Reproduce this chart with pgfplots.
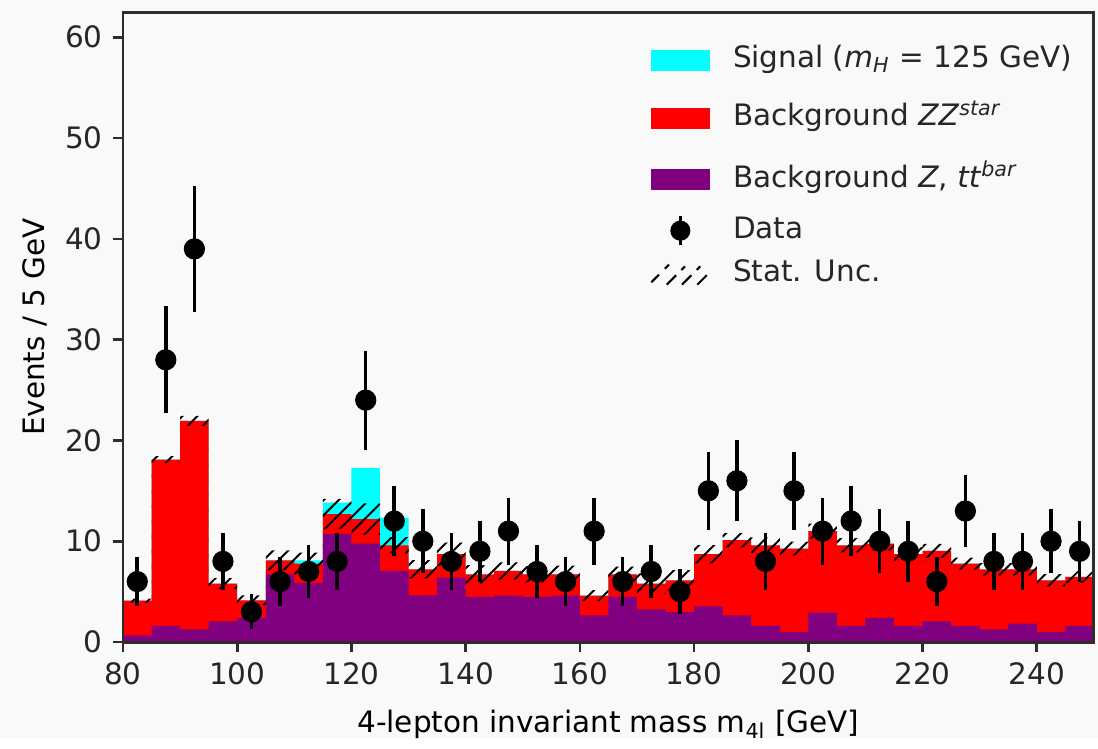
\documentclass[border=0pt]{standalone}
\usepackage{fontspec}
\setmainfont{DejaVu Sans}
\usepackage{pgfplots}
\pgfplotsset{compat=1.18}
\usepackage{pgfplotstable}
\usepgfplotslibrary{fillbetween}
\usetikzlibrary{patterns.meta}
\definecolor{bgc}{RGB}{249,249,249}
\definecolor{sigc}{RGB}{0,255,255}
\definecolor{zzc}{RGB}{255,0,0}
\definecolor{ztc}{RGB}{128,0,128}
\definecolor{spine}{RGB}{45,45,45}

% x = lower bin edge; zt = Z,ttbar ; zz = ZZ* ; sig = signal ; unc = stat. unc.
\pgfplotstableread{
x   zt    zz    sig   unc
80  0.66  3.44  0     0.2
85  1.60  16.50 0     0.35
90  1.26  20.69 0     0.5
95  2.05  3.75  0     0.55
100 2.40  1.74  0     0.5
105 6.72  1.38  0     1.0
110 5.86  1.92  0.32  1.1
115 10.73 1.97  1.14  1.5
120 9.77  2.43  5.08  1.55
125 7.05  2.55  2.75  0.8
130 4.64  2.58  0     0.9
135 6.39  2.32  0     1.15
140 4.47  2.25  0     0.9
145 4.60  2.45  0     0.85
150 4.47  2.25  0     0.8
155 4.60  2.12  0     0.85
160 2.65  1.95  0     0.55
165 4.47  2.25  0     0.75
170 3.25  2.55  0     1.0
175 2.98  3.15  0     1.0
180 3.55  5.16  0     0.9
185 2.65  7.45  0     0.7
190 1.60  8.00  0     0.75
195 1.00  8.27  0     0.7
200 2.92  8.08  0     0.75
205 1.60  8.00  0     0.7
210 2.40  7.37  0     0.7
215 1.60  7.11  0     0.7
220 2.05  6.99  0     0.7
225 1.60  6.18  0     0.6
230 1.26  5.96  0     0.6
235 1.83  5.39  0     0.6
240 1.00  5.13  0     0.6
245 1.60  4.86  0     0.6
250 1.60  4.86  0     0.6
}\mc

\pgfplotstableread{
x     y   e
82.5  6   2.45
87.5  28  5.29
92.5  39  6.24
97.5  8   2.83
102.5 3   1.73
107.5 6   2.45
112.5 7   2.65
117.5 8   2.83
122.5 24  4.90
127.5 12  3.46
132.5 10  3.16
137.5 8   2.83
142.5 9   3.00
147.5 11  3.32
152.5 7   2.65
157.5 6   2.45
162.5 11  3.32
167.5 6   2.45
172.5 7   2.65
177.5 5   2.24
182.5 15  3.87
187.5 16  4.00
192.5 8   2.83
197.5 15  3.87
202.5 11  3.32
207.5 12  3.46
212.5 10  3.16
217.5 9   3.00
222.5 6   2.45
227.5 13  3.61
232.5 8   2.83
237.5 8   2.83
242.5 10  3.16
247.5 9   3.00
}\data

\tikzset{fill between/on layer=main}

\begin{document}
\begin{tikzpicture}
\fill[bgc] (-41.7pt,-32.9pt) rectangle (330.6pt,217.7pt);
\begin{axis}[
  at={(0,0)}, anchor=south west,
  scale only axis,
  width=329.2pt, height=213.6pt,
  xmin=80, xmax=250, ymin=0, ymax=62.5,
  xtick={80,100,...,240}, ytick={0,10,...,60},
  /pgf/number format/assume math mode=true,
  tick align=outside, xtick pos=bottom, ytick pos=left,
  major tick length=3.4pt,
  every tick/.style={spine, line width=0.9pt},
  axis line style={spine, line width=1pt},
  axis background/.style={fill=white},
  axis on top,
  tick label style={font=\fontsize{10}{12}\selectfont, black!85},
  label style={font=\fontsize{10}{12}\selectfont, black!85},
  xlabel={4-lepton invariant mass m\textsubscript{4l} [GeV]},
  ylabel={Events / 5 GeV},
  every axis x label/.style={at={(axis description cs:0.5,-0.144)}, anchor=base},
  every axis y label/.style={at={(axis description cs:-0.0906,0.5)}, rotate=90, anchor=center},
  legend style={draw=none, fill=none, at={(axis description cs:0.5425,0.969)}, anchor=north west,
    row sep=0pt, inner sep=0pt,
    nodes={inner sep=2pt, anchor=west,
      font=\fontsize{10}{12}\selectfont, text=black!85}},
  legend cell align=left,
]
\addplot[const plot, fill=sigc, draw=none, forget plot]
  table[x=x, y expr=\thisrow{zt}+\thisrow{zz}+\thisrow{sig}] {\mc} \closedcycle;
\addplot[const plot, fill=zzc, draw=none, forget plot]
  table[x=x, y expr=\thisrow{zt}+\thisrow{zz}] {\mc} \closedcycle;
\addplot[const plot, fill=ztc, draw=none, forget plot]
  table[x=x, y=zt] {\mc} \closedcycle;

\addplot[const plot, draw=none, name path=hi, forget plot]
  table[x=x, y expr=\thisrow{zt}+\thisrow{zz}+\thisrow{unc}] {\mc};
\addplot[const plot, draw=none, name path=lo, forget plot]
  table[x=x, y expr=\thisrow{zt}+\thisrow{zz}-\thisrow{unc}] {\mc};
\addplot[pattern={Lines[angle=45, distance=3.6pt, line width=0.65pt]}, pattern color=black, draw=none, forget plot]
  fill between[of=hi and lo];

\addplot[only marks, mark=*, mark size=3.4pt, black, forget plot,
  error bars/.cd, y dir=both, y explicit, error mark=none,
  error bar style={line width=1.2pt, black}]
  table[x=x, y=y, y error=e] {\data};

\addlegendimage{legend image code/.code={\fill[sigc] (0pt,-3.4pt) rectangle (19.7pt,3.4pt); \path (0pt,0pt) (25.5pt,0pt);}}
\addlegendentry[text height=10.1pt, text depth=5.1pt]{Signal (\textit{m}\textsubscript{\textit{H}} = 125 GeV)}
\addlegendimage{legend image code/.code={\fill[zzc] (0pt,-3.4pt) rectangle (19.7pt,3.4pt); \path (0pt,0pt) (25.5pt,0pt);}}
\addlegendentry[text height=10.6pt, text depth=5.6pt]{Background \textit{ZZ}\textsuperscript{\textit{star}}}
\addlegendimage{legend image code/.code={\fill[ztc] (0pt,-3.4pt) rectangle (19.7pt,3.4pt); \path (0pt,0pt) (25.5pt,0pt);}}
\addlegendentry[text height=11.1pt, text depth=6.1pt]{Background \textit{Z}, \textit{tt}\textsuperscript{\textit{bar}}}
\addlegendimage{legend image code/.code={\draw[black, line width=1.2pt] (9.85pt,-5pt)--(9.85pt,5pt); \fill[black] (9.85pt,0pt) circle (3.2pt); \path (0pt,0pt) (25.5pt,0pt);}}
\addlegendentry[text height=7.2pt, text depth=2.2pt]{Data}
\addlegendimage{legend image code/.code={
  \draw[black, line width=0.7pt] (0pt,-2.6pt) -- (2.6pt,0pt) (4.6pt,2.0pt) -- (6pt,3.4pt);
  \draw[black, line width=0.7pt] (5.2pt,-3.4pt) -- (8.4pt,-0.2pt) (10.2pt,1.6pt) -- (11.4pt,2.8pt);
  \draw[black, line width=0.7pt] (10.4pt,-3.4pt) -- (13.6pt,-0.2pt) (15.4pt,1.6pt) -- (16.6pt,2.8pt);
  \draw[black, line width=0.7pt] (15.6pt,-3.4pt) -- (18.8pt,-0.2pt);
  \path (0pt,0pt) (25.5pt,0pt);}}
\addlegendentry[text height=8.7pt, text depth=3.7pt]{Stat. Unc.}
\end{axis}
\end{tikzpicture}
\end{document}
